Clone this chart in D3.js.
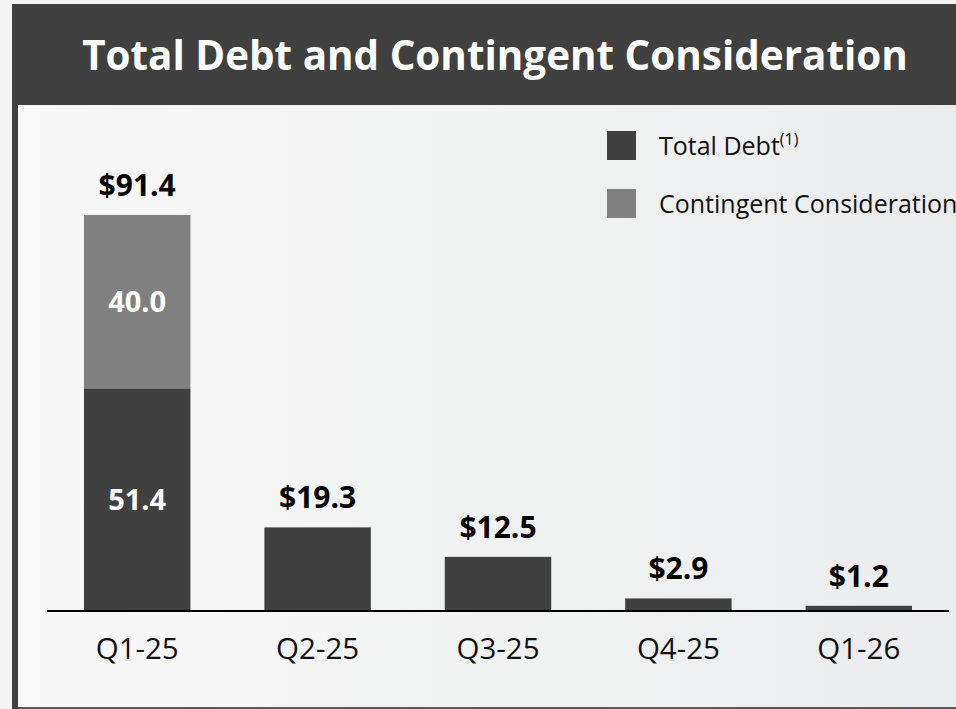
<!DOCTYPE html>
<html><head><meta charset="utf-8">
<script src="https://cdn.jsdelivr.net/npm/d3@7"></script>
<style>
html,body{margin:0;padding:0;background:#f4f4f4;}
svg{display:block;font-family:"Open Sans","Noto Sans",sans-serif;}
</style></head>
<body>
<svg id="chart" width="956" height="709"></svg>
<script>
const categories = ["Q1-25","Q2-25","Q3-25","Q4-25","Q1-26"];
const totalDebt = [51.4, 19.3, 12.5, 2.9, 1.2];
const contingent = [40.0, 0, 0, 0, 0];
const totalLabels = ["$91.4","$19.3","$12.5","$2.9","$1.2"];
const seriesNames = ["Total Debt","Contingent Consideration"];
const seriesColors = ["#404040","#808080"];
const title = "Total Debt and Contingent Consideration";

const svg = d3.select("#chart");
const W = 956, H = 709;

const defs = svg.append("defs");
const grad = defs.append("linearGradient").attr("id","bg").attr("x1","0").attr("x2","1").attr("y1","0").attr("y2","0");
grad.append("stop").attr("offset","0").attr("stop-color","#f8f8f8");
grad.append("stop").attr("offset","1").attr("stop-color","#ebeced");

// frame
svg.append("rect").attr("x",0).attr("y",0).attr("width",W).attr("height",H).attr("fill","#f4f4f4");
svg.append("rect").attr("x",12).attr("y",4).attr("width",W-12).attr("height",H-4).attr("fill","#404040");
svg.append("rect").attr("x",18).attr("y",105).attr("width",W-18).attr("height",602).attr("fill","url(#bg)");
svg.append("rect").attr("x",18).attr("y",707).attr("width",W-18).attr("height",2).attr("fill","#5a5a5a");

// title
const t = svg.append("text").attr("x",495).attr("y",70).attr("text-anchor","middle")
  .attr("fill","#ffffff").attr("font-weight","bold").attr("font-size",40).text(title);
const tw = t.node().getComputedTextLength();
t.attr("font-size", 40*826/tw);

// scales
const x = d3.scaleBand().domain(categories).range([47,949]).paddingInner(0.41).paddingOuter(0.205);
const y = d3.scaleLinear().domain([0,100]).range([611,177.7]);

const stackData = categories.map((c,i)=>({cat:c, debt:totalDebt[i], cont:contingent[i]}));
const stack = d3.stack().keys(["debt","cont"])(stackData);

const g = svg.append("g");
stack.forEach((layer,li)=>{
  g.selectAll(null).data(layer.filter(d=>d[1]-d[0]>0)).enter().append("rect")
    .attr("x",d=>x(d.data.cat)).attr("width",x.bandwidth())
    .attr("y",d=>y(d[1])).attr("height",d=>y(d[0])-y(d[1]))
    .attr("fill",seriesColors[li]);
  g.selectAll(null).data(layer.filter(d=>d.data.cont>0)).enter().append("text")
    .attr("x",d=>x(d.data.cat)+x.bandwidth()/2)
    .attr("y",d=>(y(d[0])+y(d[1]))/2)
    .attr("dy","0.36em")
    .attr("text-anchor","middle").attr("fill","#ffffff").attr("font-weight","bold").attr("font-size",29)
    .text(d=>(d[1]-d[0]).toFixed(1));
});

// total labels
g.selectAll(null).data(stackData).enter().append("text")
  .attr("x",d=>x(d.cat)+x.bandwidth()/2)
  .attr("y",d=>y(d.debt+d.cont)-19)
  .attr("text-anchor","middle").attr("fill","#000").attr("font-weight","bold").attr("font-size",30)
  .text((d,i)=>totalLabels[i]);

// axis
const axis = svg.append("g").attr("transform","translate(0,611)")
  .call(d3.axisBottom(x).tickSize(0).tickPadding(0));
axis.select(".domain").attr("stroke","#000").attr("stroke-width",2).attr("d","M47,0H949");
axis.selectAll(".tick text").attr("font-size",29.5).attr("fill","#111").attr("dy",0).attr("y",48)
  .attr("font-family","\"Open Sans\",\"Noto Sans\",sans-serif");

// legend
const lg = svg.append("g");
seriesNames.forEach((n,i)=>{
  lg.append("rect").attr("x",607).attr("y",131+i*58).attr("width",29).attr("height",29).attr("fill",seriesColors[i]);
  const tx = lg.append("text").attr("x",659).attr("y",155+i*58).attr("font-size",25).attr("fill","#111").text(n);
  if(i===0) tx.append("tspan").attr("font-size",16).attr("dy",-10).text("(1)");
});
</script>
</body></html>
